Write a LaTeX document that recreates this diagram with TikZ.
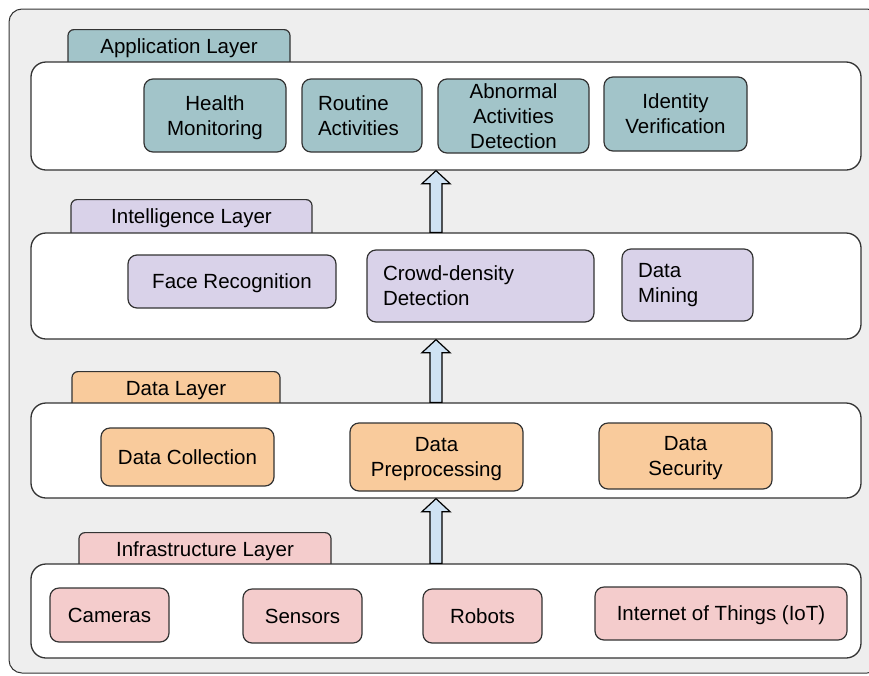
\documentclass[tikz,border=0pt]{standalone}
\usepackage{fontspec}
\setmainfont{Liberation Sans}
\usepackage{tikz}
\usetikzlibrary{calc}
\definecolor{paper}{HTML}{EEEEEE}
\definecolor{edge}{HTML}{333333}
\definecolor{appc}{HTML}{A2C4C9}
\definecolor{intc}{HTML}{D9D2E9}
\definecolor{datc}{HTML}{F9CB9C}
\definecolor{infc}{HTML}{F4CCCC}
\definecolor{arrc}{HTML}{CFE2F3}
\tikzset{
  txt/.style={font=\fontsize{20.5pt}{25pt}\selectfont},
  band/.style={rounded corners=15pt,draw=edge,line width=1.3pt,fill=white,
    minimum width=830pt,inner sep=0pt},
  tab/.style={txt,rounded corners=6pt,draw=edge,line width=1.2pt,anchor=north,
    inner sep=0pt,text height=24pt,text depth=15pt},
  box/.style={txt,rounded corners=9pt,draw=edge,line width=1.2pt,align=center,
    inner sep=0pt,text depth=0pt},
  leftbox/.style={box,align=left,text depth=},
  appbox/.style={box,fill=appc},
  intbox/.style={box,fill=intc},
  datbox/.style={box,fill=datc},
  infbox/.style={box,fill=infc},
  blockarrow/.style={draw=black,line width=1.2pt,fill=arrc,line join=miter}
}
% block arrow from a lower band up to the band above it
\newcommand\layerarrow[2]{%
  \draw[blockarrow] let \p1=(#1.north -| axis), \p2=(#2.south -| axis) in
    (\x1-6pt,\y1) -- (\x1-6pt,\y2-13pt) -- (\x1-14pt,\y2-13pt) -- (\x1,\y2)
    -- (\x1+14pt,\y2-13pt) -- (\x1+6pt,\y2-13pt) -- (\x1+6pt,\y1) -- cycle;}
\begin{document}
\begin{tikzpicture}[x=1pt,y=-1pt]
  \useasboundingbox (0,0) rectangle (869,675);
  \draw[rounded corners=13pt,draw=edge,line width=1pt,fill=paper] (9,9) rectangle (880,673);
  \coordinate (axis) at (436,0);

  % tabs sit behind the bands
  \node[tab,fill=appc,minimum width=222pt] (apptab) at (179,29) {Application Layer};
  \node[tab,fill=intc,minimum width=241pt] (inttab) at (191.5,199) {Intelligence Layer};
  \node[tab,fill=datc,minimum width=208pt] (dattab) at (176,371) {Data Layer};
  \node[tab,fill=infc,minimum width=252pt] (inftab) at (205,532) {Infrastructure Layer};

  % bands
  \node[band,minimum height=108pt] (app) at (446,116) {};
  \node[band,minimum height=106pt] (intel) at (446,286) {};
  \node[band,minimum height=95pt] (data) at (446,450.5) {};
  \node[band,minimum height=94pt] (infra) at (446,611) {};

  % application layer
  \node[appbox,minimum width=142pt,minimum height=73pt] (health) at (215,115.5) {Health\\Monitoring};
  \node[appbox,leftbox,text width=88pt,minimum height=73pt,inner xsep=16pt] (routine) at (362,115.5) {Routine\\Activities};
  \node[appbox,minimum width=151pt,minimum height=74pt] (abnormal) at (513.5,116) {Abnormal\\Activities\\Detection};
  \node[appbox,minimum width=143pt,minimum height=74pt] (identity) at (675.5,114) {Identity\\Verification};

  % intelligence layer
  \node[intbox,minimum width=208pt,minimum height=53pt] (face) at (232,281.5) {Face Recognition};
  \node[intbox,leftbox,text width=195pt,minimum height=72pt,inner xsep=16pt] (crowd) at (480.5,286) {Crowd-density\\Detection};
  \node[intbox,leftbox,text width=99pt,minimum height=72pt,inner xsep=16pt] (mining) at (687.5,285) {Data\\Mining};

  % data layer
  \node[datbox,minimum width=173pt,minimum height=58pt] (collect) at (187.5,457) {Data Collection};
  \node[datbox,minimum width=173pt,minimum height=68pt] (prep) at (436.5,457) {Data\\Preprocessing};
  \node[datbox,minimum width=173pt,minimum height=66pt] (security) at (685.5,456) {Data\\Security};

  % infrastructure layer
  \node[infbox,minimum width=119pt,minimum height=54pt] (cams) at (109.5,615) {Cameras};
  \node[infbox,minimum width=119pt,minimum height=54pt] (sensors) at (302.5,616) {Sensors};
  \node[infbox,minimum width=119pt,minimum height=54pt] (robots) at (482.5,616) {Robots};
  \node[infbox,minimum width=252pt,minimum height=53pt] (iot) at (721,613.5) {Internet of Things (IoT)};

  \layerarrow{infra}{data}
  \layerarrow{data}{intel}
  \layerarrow{intel}{app}
\end{tikzpicture}
\end{document}
